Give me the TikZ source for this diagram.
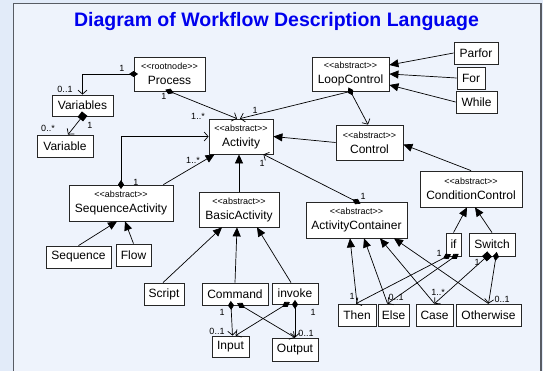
\documentclass[tikz,border=0pt]{standalone}
\usepackage{fontspec}
\newfontfamily\umlfont{Liberation Sans}
\usetikzlibrary{arrows.meta}
\definecolor{outerbg}{RGB}{226,235,249}
\definecolor{panelbg}{RGB}{238,243,252}
\definecolor{framegray}{RGB}{88,92,100}
\definecolor{titleblue}{RGB}{0,0,238}
\newcommand\umlstereo[1]{{\fontsize{9}{10}\selectfont<<#1>>}}

\begin{document}
\begin{tikzpicture}[x=1pt, y=-1pt,
  box/.style={draw=black!85, fill=white, line width=0.8pt, inner sep=0pt, align=center,
    font=\umlfont\fontsize{12}{15}\selectfont},
  mult/.style={inner sep=0pt, font=\umlfont\fontsize{9}{10}\selectfont},
  gen/.style={line width=0.7pt, -{Triangle[length=9pt,width=8pt]}},
  nav/.style={line width=0.7pt, -{Straight Barb[length=4pt,width=9pt]}},
  comp/.style={nav, {Diamond[length=9pt,width=6pt]}-{Straight Barb[length=4pt,width=9pt]}, shorten <=-4.5pt},
  agg/.style={nav, {Square[length=7pt,width=7pt]}-{Straight Barb[length=4pt,width=9pt]}, shorten <=-3.5pt}]
{\centering
\useasboundingbox (0, 0) rectangle (543, 371);
\fill[outerbg] (0, 0) rectangle (543, 371);
\filldraw[fill=panelbg, draw=framegray, line width=1.5pt] (13.5, 3.5) rectangle (541, 385);
\node[font=\umlfont\bfseries\fontsize{19.5}{22}\selectfont, text=titleblue] (Title) at (276.5, 22) {Diagram of Workflow Description Language};

\node[box, minimum width=71, minimum height=34] (Process) at (169.5, 74) {\umlstereo{rootnode}\\Process};
\node[box, minimum width=61, minimum height=21] (Variables) at (82.5, 105.5) {Variables};
\node[box, minimum width=56, minimum height=22] (Variable) at (65, 146) {Variable};
\node[box, minimum width=64, minimum height=35] (Activity) at (241, 136.5) {\umlstereo{abstract}\\Activity};

\node[box, minimum width=77, minimum height=34] (LoopControl) at (350.5, 74) {\umlstereo{abstract}\\LoopControl};
\node[box, minimum width=44, minimum height=22] (Parfor) at (476, 53) {Parfor};
\node[box, minimum width=28, minimum height=22] (For) at (471, 78) {For};
\node[box, minimum width=41, minimum height=22] (While) at (476.5, 102) {While};
\node[box, minimum width=67, minimum height=35] (Control) at (369.5, 142.5) {\umlstereo{abstract}\\Control};
\node[box, minimum width=102, minimum height=36] (ConditionControl) at (471, 189) {\umlstereo{abstract}\\ConditionControl};

\node[box, minimum width=104, minimum height=36] (SequenceActivity) at (121, 203) {\umlstereo{abstract}\\SequenceActivity};
\node[box, minimum width=80, minimum height=35] (BasicActivity) at (239, 209.5) {\umlstereo{abstract}\\BasicActivity};
\node[box, minimum width=101, minimum height=36] (ActivityContainer) at (356.5, 220) {\umlstereo{abstract}\\ActivityContainer};

\node[box, minimum width=65, minimum height=22] (Sequence) at (78.5, 257) {Sequence};
\node[box, minimum width=35, minimum height=22] (Flow) at (133.5, 255) {Flow};
\node[box, minimum width=40, minimum height=22] (Script) at (164, 294) {Script};
\node[box, minimum width=66, minimum height=22] (Command) at (235, 294) {Command};
\node[box, minimum width=46, minimum height=21] (invoke) at (295, 293.5) {invoke};
\node[box, minimum width=37, minimum height=21] (Input) at (230.5, 346.5) {Input};
\node[box, minimum width=46, minimum height=23] (Output) at (295, 349.5) {Output};

\node[box, minimum width=15, minimum height=23] (if) at (453.5, 244.5) {if};
\node[box, minimum width=46, minimum height=23] (Switch) at (492, 244.5) {Switch};
\node[box, minimum width=38, minimum height=22] (Then) at (357, 315) {Then};
\node[box, minimum width=31, minimum height=22] (Else) at (393.5, 315) {Else};
\node[box, minimum width=37, minimum height=22] (Case) at (434.5, 315) {Case};
\node[box, minimum width=65, minimum height=22] (Otherwise) at (488.5, 315) {Otherwise};

% process and variables
\draw[comp] (Process.west) -| (Variables.north);
\draw[agg] (Variables.south) -- ([xshift=3pt]Variable.north);
\path[comp] (Process.south) edge node {} ([xshift=-4pt]Activity.north);
\path[nav] (LoopControl.south) edge node {} ([xshift=-1pt]Activity.north);
\path[comp] (LoopControl.south) edge node {} ([xshift=-1.5pt]Control.north);

% loops and controls
\path[gen] (Parfor.west) edge node {} ([yshift=9pt]LoopControl.east);
\path[gen] (For.west) edge node {} (LoopControl.east);
\path[gen] (While.west) edge node {} ([yshift=-11pt]LoopControl.east);
\path[gen] (Control.west) edge node {} (Activity.east);
\path[gen] (ConditionControl.north) edge node {} ([yshift=-2pt]Control.east);

% activities
\draw[comp] (SequenceActivity.north) |- (Activity.west);
\path[gen] ([xshift=-10pt]SequenceActivity.north east) edge node {} ([xshift=6pt]Activity.south west);
\draw[gen] (BasicActivity.north) -- (BasicActivity.north |- Activity.south);
\path[comp] (ActivityContainer.north) edge node {} ([xshift=-10pt]Activity.south east);
\path[gen] (Sequence.north) edge node {} ([xshift=-4pt]SequenceActivity.south);
\path[gen] (Flow.north) edge node {} ([xshift=4pt]SequenceActivity.south);
\path[gen] ([xshift=-1pt]Script.north) edge node {} ([xshift=-17pt]BasicActivity.south);
\path[gen] (Command.north) edge node {} ([xshift=-2pt]BasicActivity.south);
\path[gen] ([xshift=-4pt]invoke.north) edge node {} ([xshift=18pt]BasicActivity.south);

\path[comp] ([xshift=-4pt]Command.south) edge node {} ([xshift=2pt]Input.north);
\path[comp] ([xshift=6pt]Command.south) edge node {} (Output.north);
\path[comp] ([xshift=-9pt]invoke.south) edge node {} ([xshift=5pt]Input.north);
\path[comp] (invoke.south) edge node {} (Output.north);

% containers and conditions
\path[gen] (Then.north) edge node {} ([xshift=-6.5pt]ActivityContainer.south);
\path[gen] ([xshift=-6pt]Else.north) edge node {} ([xshift=7.5pt]ActivityContainer.south);
\path[gen] (Case.north) edge node {} ([xshift=23.5pt]ActivityContainer.south);
\path[gen] (Otherwise.north) edge node {} ([xshift=37.5pt]ActivityContainer.south);
\path[gen] (if.north) edge node {} ([xshift=-4pt]ConditionControl.south);
\path[gen] (Switch.north) edge node {} ([xshift=4pt]ConditionControl.south);
\path[comp] ([xshift=-6.5pt]if.south) edge node {} ([xshift=-1pt]Then.north);
\path[comp] ([xshift=1.5pt]if.south) edge node {} ([xshift=-6pt]Else.north);
\path[agg] ([xshift=-5pt]Switch.south) edge node {} (Case.north);
\path[comp] ([xshift=4pt]Switch.south) edge node {} (Otherwise.north);

% multiplicities
\node[mult] (mProcVar) at (122, 68) {1};
\node[mult] (mVar) at (65, 89) {0..1};
\node[mult] (mVarsOne) at (90, 125) {1};
\node[mult] (mVarsMany) at (48, 128) {0..*};
\node[mult] (mProcAct) at (164, 96) {1};
\node[mult] (mActProc) at (198, 116) {1..*};
\node[mult] (mLoopAct) at (255, 110) {1};
\node[mult] (mSeqGen) at (193, 160) {1..*};
\node[mult] (mSeqOne) at (136, 182) {1};
\node[mult] (mActCont) at (262, 163) {1};
\node[mult] (mContAct) at (363, 196) {1};
\node[mult] (mCmdOne) at (222, 312) {1};
\node[mult] (mCmdIn) at (217, 331) {0..1};
\node[mult] (mInvOne) at (313, 312) {1};
\node[mult] (mInvOut) at (306, 333) {0..1};
\node[mult] (mIfOne) at (439, 253) {1};
\node[mult] (mThen) at (352, 296) {1};
\node[mult] (mElse) at (396, 297) {0..1};
\node[mult] (mSwOne) at (477, 262) {1};
\node[mult] (mCase) at (438, 292) {1..*};
\node[mult] (mOther) at (502, 299) {0..1};
}
\end{tikzpicture}
\end{document}
